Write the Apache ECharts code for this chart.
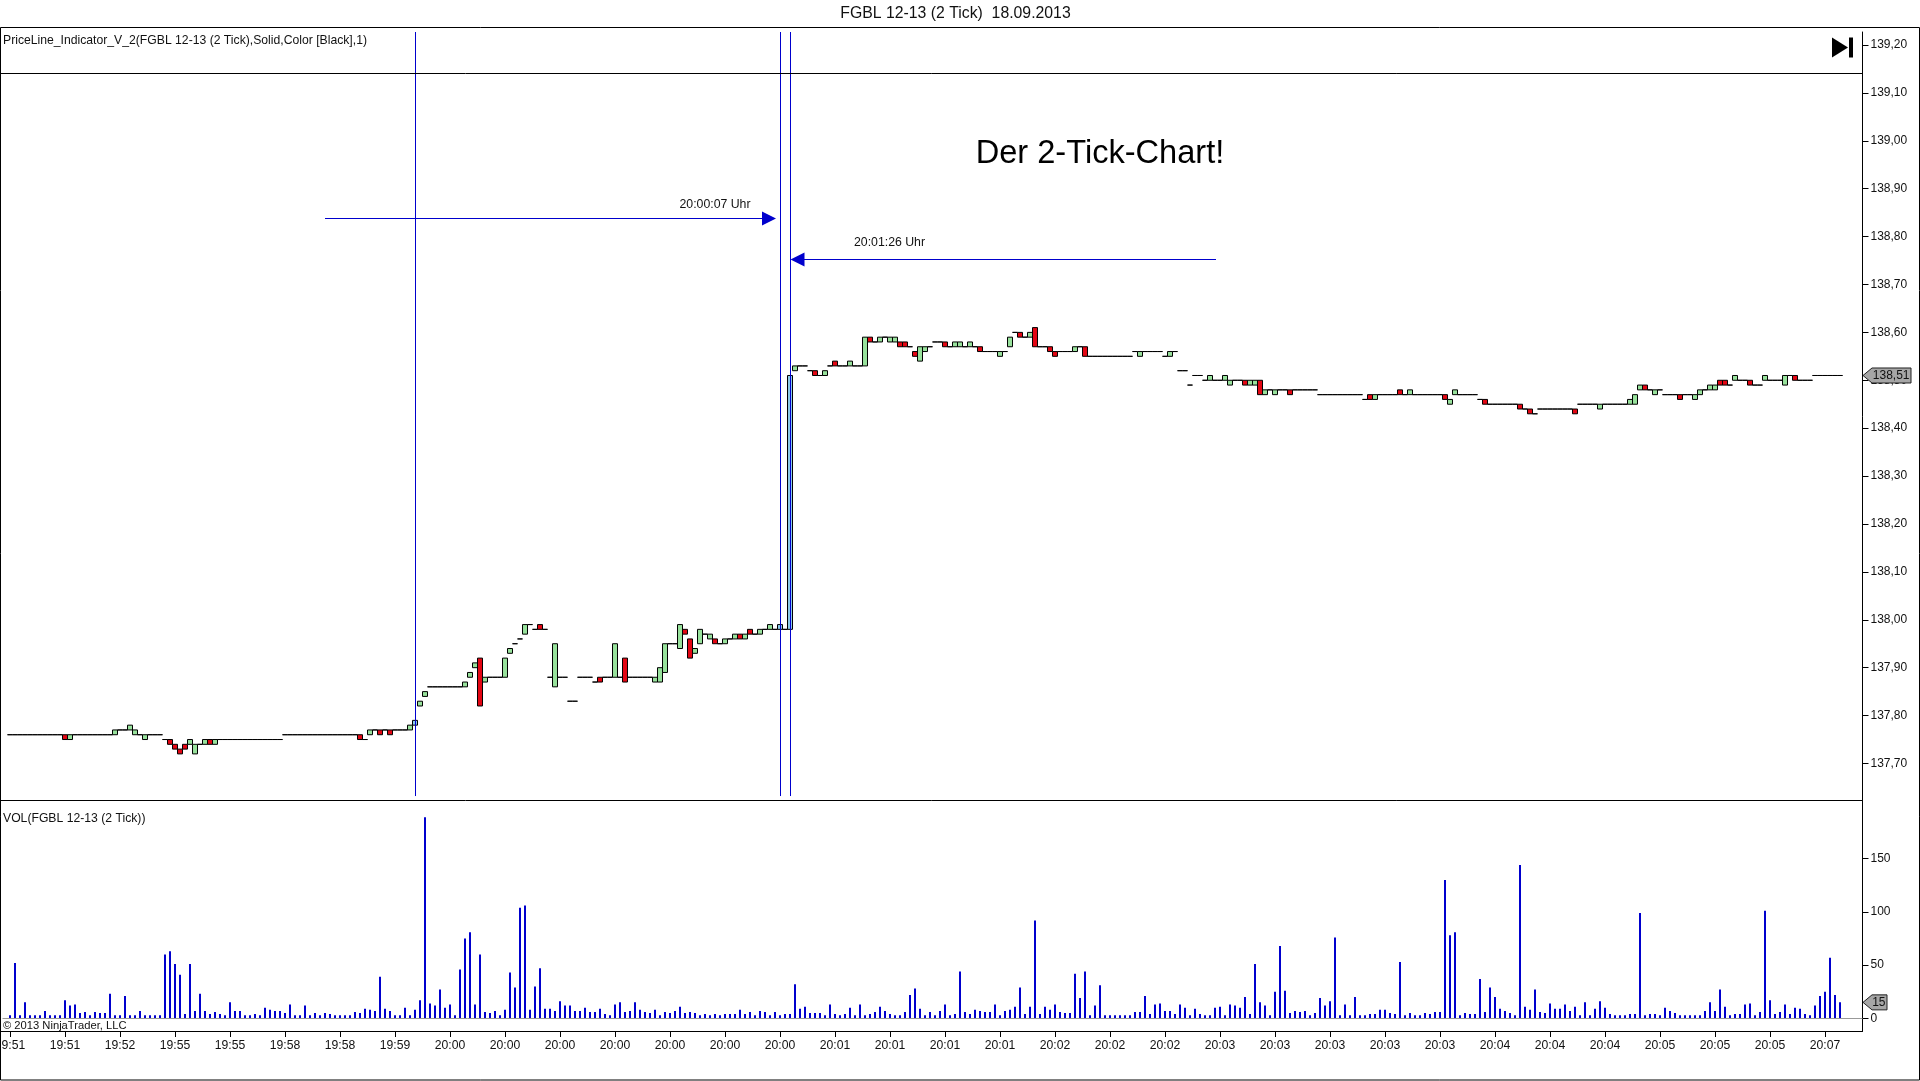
<!DOCTYPE html>
<html><head><meta charset="utf-8">
<style>html,body{margin:0;padding:0;background:#fff}#c{width:1920px;height:1081px}</style>
<script src="https://cdn.jsdelivr.net/npm/echarts@6/dist/echarts.min.js"></script>
</head><body><div id="c"></div>
<script>
// ---- data ----
const chartTitle = 'FGBL 12-13 (2 Tick)  18.09.2013';
const tickLabels = ['19:51','19:51','19:52','19:55','19:55','19:58','19:58','19:59','20:00','20:00','20:00','20:00','20:00','20:00','20:00','20:01','20:01','20:01','20:01','20:02','20:02','20:02','20:03','20:03','20:03','20:03','20:03','20:04','20:04','20:04','20:05','20:05','20:05','20:07'];
const priceTicks = [137.7,137.8,137.9,138,138.1,138.2,138.3,138.4,138.5,138.6,138.7,138.8,138.9,139,139.1,139.2];
const volumeTicks = [0,50,100,150];
const opens = [
137.76,137.76,137.76,137.76,137.76,137.76,137.76,137.76,137.76,137.76,
137.76,137.76,137.75,137.76,137.76,137.76,137.76,137.76,137.76,137.76,
137.76,137.76,137.77,137.77,137.77,137.76,137.76,137.75,137.76,137.76,
137.76,137.75,137.75,137.74,137.73,137.74,137.74,137.72,137.74,137.74,
137.75,137.74,137.75,137.75,137.75,137.75,137.75,137.75,137.75,137.75,
137.75,137.75,137.75,137.75,137.75,137.76,137.76,137.76,137.76,137.76,
137.76,137.76,137.76,137.76,137.76,137.76,137.76,137.76,137.76,137.76,
137.76,137.75,137.76,137.77,137.77,137.77,137.77,137.77,137.77,137.77,
137.77,137.78,137.82,137.84,137.86,137.86,137.86,137.86,137.86,137.86,
137.86,137.86,137.88,137.90,137.92,137.87,137.88,137.88,137.88,137.88,
137.93,137.95,137.96,137.97,137.99,137.98,137.99,137.98,137.88,137.86,
137.88,137.88,137.83,137.83,137.88,137.88,137.88,137.87,137.88,137.88,
137.88,137.88,137.88,137.92,137.88,137.88,137.88,137.88,137.88,137.87,
137.87,137.89,137.95,137.95,137.94,137.98,137.96,137.93,137.95,137.97,
137.96,137.96,137.95,137.95,137.96,137.96,137.97,137.96,137.98,137.97,
137.97,137.98,137.98,137.98,137.98,137.98,137.98,138.52,138.53,138.53,
138.52,138.52,138.51,138.51,138.53,138.54,138.53,138.53,138.53,138.53,
138.53,138.53,138.59,138.58,138.58,138.59,138.58,138.58,138.58,138.58,
138.57,138.56,138.54,138.56,138.57,138.58,138.58,138.58,138.57,138.57,
138.57,138.57,138.57,138.57,138.57,138.56,138.56,138.56,138.55,138.56,
138.57,138.60,138.60,138.59,138.59,138.61,138.57,138.57,138.57,138.56,
138.56,138.56,138.56,138.56,138.57,138.57,138.55,138.55,138.55,138.55,
138.55,138.55,138.55,138.55,138.55,138.56,138.55,138.56,138.56,138.56,
138.56,138.55,138.55,138.56,138.52,138.52,138.49,138.51,138.51,138.50,
138.50,138.50,138.50,138.50,138.49,138.50,138.50,138.50,138.49,138.49,
138.50,138.47,138.48,138.47,138.48,138.48,138.48,138.48,138.48,138.48,
138.48,138.48,138.47,138.47,138.47,138.47,138.47,138.47,138.47,138.47,
138.47,138.46,138.47,138.46,138.47,138.47,138.47,138.47,138.48,138.47,
138.47,138.47,138.47,138.47,138.47,138.47,138.47,138.47,138.45,138.47,
138.47,138.47,138.47,138.47,138.46,138.46,138.45,138.45,138.45,138.45,
138.45,138.45,138.45,138.44,138.44,138.43,138.44,138.44,138.44,138.44,
138.44,138.44,138.44,138.44,138.45,138.45,138.45,138.45,138.44,138.45,
138.45,138.45,138.45,138.45,138.45,138.45,138.48,138.49,138.48,138.47,
138.48,138.47,138.47,138.47,138.47,138.47,138.47,138.46,138.47,138.48,
138.48,138.48,138.50,138.50,138.49,138.50,138.50,138.50,138.50,138.49,
138.49,138.50,138.50,138.50,138.50,138.49,138.51,138.51,138.50,138.50,
138.50,138.51,138.51,138.51,138.51,138.51,138.51];
const closes = [
137.76,137.76,137.76,137.76,137.76,137.76,137.76,137.76,137.76,137.76,
137.76,137.75,137.76,137.76,137.76,137.76,137.76,137.76,137.76,137.76,
137.76,137.77,137.77,137.77,137.78,137.77,137.76,137.76,137.76,137.76,
137.76,137.75,137.74,137.73,137.72,137.73,137.75,137.74,137.74,137.75,
137.74,137.75,137.75,137.75,137.75,137.75,137.75,137.75,137.75,137.75,
137.75,137.75,137.75,137.75,137.75,137.76,137.76,137.76,137.76,137.76,
137.76,137.76,137.76,137.76,137.76,137.76,137.76,137.76,137.76,137.76,
137.75,137.75,137.77,137.77,137.76,137.77,137.76,137.77,137.77,137.77,
137.78,137.79,137.83,137.85,137.86,137.86,137.86,137.86,137.86,137.86,
137.86,137.87,137.89,137.91,137.82,137.88,137.88,137.88,137.88,137.92,
137.94,137.95,137.96,137.99,137.99,137.98,137.98,137.98,137.88,137.95,
137.88,137.88,137.83,137.83,137.88,137.88,137.88,137.87,137.87,137.88,
137.88,137.95,137.88,137.87,137.88,137.88,137.88,137.88,137.88,137.88,
137.90,137.95,137.95,137.95,137.99,137.97,137.92,137.94,137.98,137.97,
137.97,137.95,137.95,137.96,137.96,137.97,137.96,137.97,137.97,137.97,
137.98,137.98,137.99,137.98,137.99,137.98,138.51,138.53,138.53,138.53,
138.52,138.51,138.51,138.52,138.53,138.53,138.53,138.53,138.54,138.53,
138.53,138.59,138.58,138.58,138.59,138.59,138.59,138.59,138.57,138.57,
138.57,138.55,138.57,138.57,138.57,138.58,138.58,138.57,138.57,138.58,
138.58,138.57,138.58,138.57,138.56,138.56,138.56,138.56,138.56,138.56,
138.59,138.60,138.59,138.59,138.60,138.57,138.57,138.57,138.56,138.55,
138.56,138.56,138.56,138.57,138.57,138.55,138.55,138.55,138.55,138.55,
138.55,138.55,138.55,138.55,138.55,138.56,138.56,138.56,138.56,138.56,
138.56,138.55,138.56,138.56,138.52,138.52,138.49,138.51,138.51,138.50,
138.51,138.50,138.50,138.51,138.50,138.50,138.50,138.49,138.50,138.50,
138.47,138.48,138.48,138.48,138.48,138.48,138.47,138.48,138.48,138.48,
138.48,138.48,138.47,138.47,138.47,138.47,138.47,138.47,138.47,138.47,
138.47,138.46,138.46,138.47,138.47,138.47,138.47,138.47,138.47,138.47,
138.48,138.47,138.47,138.47,138.47,138.47,138.47,138.46,138.46,138.48,
138.47,138.47,138.47,138.47,138.46,138.45,138.45,138.45,138.45,138.45,
138.45,138.45,138.44,138.44,138.43,138.43,138.44,138.44,138.44,138.44,
138.44,138.44,138.44,138.43,138.45,138.45,138.45,138.45,138.45,138.45,
138.45,138.45,138.45,138.45,138.46,138.47,138.49,138.48,138.48,138.48,
138.48,138.47,138.47,138.47,138.46,138.47,138.47,138.47,138.48,138.48,
138.49,138.49,138.49,138.49,138.49,138.51,138.50,138.50,138.49,138.49,
138.49,138.51,138.50,138.50,138.50,138.51,138.51,138.50,138.50,138.50,
138.50,138.51,138.51,138.51,138.51,138.51,138.51];
const volumes = [
3,52,3,15,3,3,3,7,3,3,
3,17,12,13,5,6,3,6,5,5,
23,3,3,21,3,3,7,3,3,3,
3,60,63,51,41,4,51,7,23,7,
4,6,4,3,15,7,7,3,3,4,
3,10,8,7,7,5,13,3,3,12,
3,5,3,5,4,3,3,3,3,6,
5,9,8,7,39,9,7,3,3,10,
3,8,17,189,14,12,27,10,13,3,
46,75,81,13,60,6,5,7,3,8,
43,29,104,106,8,30,47,9,9,7,
16,12,12,7,7,10,6,6,9,4,
3,13,15,6,7,15,8,6,5,8,
3,6,5,7,11,5,6,5,3,4,
3,4,3,4,4,4,8,4,6,3,
7,6,3,6,3,4,4,32,9,11,
5,5,5,3,13,4,3,4,10,3,
13,3,4,6,11,7,4,3,3,6,
22,28,9,3,6,3,7,13,3,4,
44,6,4,8,7,6,6,13,3,7,
8,11,29,4,11,92,4,11,8,13,
6,5,5,42,19,44,3,12,31,3,
3,3,3,3,3,6,6,21,4,13,
14,7,7,4,13,10,3,9,4,3,
3,10,11,3,13,12,10,20,4,51,
15,12,3,25,68,26,5,7,6,7,
3,5,19,12,16,76,3,13,3,20,
3,3,4,4,8,8,5,4,53,3,
5,3,3,5,4,6,6,130,78,81,
3,5,4,4,37,6,29,20,9,7,
5,3,144,11,8,27,6,5,14,9,
9,13,7,11,3,15,3,9,16,10,
4,3,3,3,4,4,99,3,4,4,
3,10,7,5,3,3,3,3,3,7,
15,7,27,11,3,4,4,13,14,3,
6,101,17,4,6,13,4,10,9,4,
3,12,21,25,57,22,15];
const markerBars = [81,154,156];   // bars that the vertical lines run through
const lastPrice = closes[closes.length-1];
const lastVolume = volumes[volumes.length-1];

// ---- series built from the arrays ----
const font = '"Liberation Sans", Arial, sans-serif';
const candleData = opens.map((o,i)=>{
  const c = closes[i];
  const item = {value:[i,o,c,Math.min(o,c),Math.max(o,c)]};
  if (markerBars.includes(i)) item.itemStyle = {color:'#8CCBEA',color0:'#8CCBEA'};
  return item;
});
// volume panel: one leading and three trailing empty bands so the bars line up with the candles
const volCategories = [''].concat(volumes.map((_,i)=>i%11===0?(tickLabels[i/11]||''):''),['','','','']);
const volData = [null].concat(volumes);
const isTickBand = j => (j-1)%11===0 && (j-1)/11 < tickLabels.length;

const X_MIN=-2, X_MAX=370.5;
const P_MAX=139.2271, P_MIN=137.6227, LINE_END=137.632;
const vline = k=>[{coord:[k,P_MAX]},{coord:[k,LINE_END],symbol:'none'}];

const chart = echarts.init(document.getElementById('c'),null,{renderer:'canvas'});
const text=(x,y,t,extra,z)=>({type:'text',x,y,silent:true,z:z||50,style:Object.assign({text:t,font:'12.2px '+font,fill:'#111',verticalAlign:'middle',align:'left'},extra||{})});
const hline=(x1,x2,y)=>({type:'line',silent:true,z:40,shape:{x1,y1:y,x2,y2:y},style:{stroke:'#000',lineWidth:1}});

const option = {
  animation:false,backgroundColor:'#fff',
  grid:[
    {left:0,right:57.5,top:32,height:768.5,outerBoundsMode:'none'},
    {left:2.5,right:57.5,top:800.5,height:230.5,outerBoundsMode:'none'}
  ],
  xAxis:[
    {type:'value',gridIndex:0,min:X_MIN,max:X_MAX,show:false},
    {type:'category',gridIndex:1,data:volCategories,boundaryGap:true,
     axisLine:{show:true,onZero:false,lineStyle:{color:'#000'}},
     axisTick:{show:true,length:6,alignWithLabel:true,interval:isTickBand,lineStyle:{color:'#000'}},
     axisLabel:{interval:isTickBand,margin:9,color:'#111',fontFamily:font,fontSize:12.2,hideOverlap:false,showMinLabel:true}}
  ],
  yAxis:[
    {type:'value',gridIndex:0,position:'right',min:P_MIN,max:P_MAX,scale:true,splitLine:{show:false},
     axisLine:{show:true,onZero:false,lineStyle:{color:'#000'}},
     axisTick:{show:true,length:6,lineStyle:{color:'#000'},customValues:priceTicks},
     axisLabel:{customValues:priceTicks,margin:8,color:'#111',fontFamily:font,fontSize:12,padding:[2,0,0,0],
       formatter:v=>v.toFixed(2).replace('.',',')}},
    {type:'value',gridIndex:1,position:'right',min:-11.9,max:204.7,splitLine:{show:false},
     axisLine:{show:true,onZero:false,lineStyle:{color:'#000'}},
     axisTick:{show:true,length:6,lineStyle:{color:'#000'},customValues:volumeTicks},
     axisLabel:{customValues:volumeTicks,margin:8,color:'#111',fontFamily:font,fontSize:12,padding:[2,0,0,0]}}
  ],
  series:[
    {type:'candlestick',name:'FGBL',xAxisIndex:0,yAxisIndex:0,layout:'horizontal',silent:true,barWidth:5,
     itemStyle:{color:'#98E29C',color0:'#E30613',borderColor:'#000',borderColor0:'#000',borderColorDoji:'#000',borderWidth:1},
     data:candleData,
     markLine:{silent:true,animation:false,symbol:['none','none'],label:{show:false},
       lineStyle:{color:'#0000CD',width:1,type:'solid'},emphasis:{disabled:true},
       data:[
         vline(81),vline(154),vline(156),
         [{coord:[63,138.838],symbol:'none'},{coord:[151.8,138.838],symbol:'triangle',symbolSize:14,lineStyle:{color:'#0000CD'},itemStyle:{color:'#0000FF'}}],
         [{coord:[241.2,138.752],symbol:'none'},{coord:[157.5,138.752],symbol:'triangle',symbolSize:14,lineStyle:{color:'#0000CD'},itemStyle:{color:'#0000FF'}}]
       ]},
     markPoint:{silent:true,animation:false,symbol:'circle',symbolSize:1,itemStyle:{color:'transparent'},
       label:{show:true,position:'inside',color:'#111',fontFamily:font,fontSize:12.3},
       data:[
         {coord:[141,138.8675],label:{formatter:'20:00:07 Uhr'}},
         {coord:[175.9,138.787],label:{formatter:'20:01:26 Uhr'}},
         {coord:[218,138.9716],label:{formatter:'Der 2-Tick-Chart!',fontSize:32.6,color:'#000'}}
       ]}},
    {type:'bar',name:'VOL',xAxisIndex:1,yAxisIndex:1,silent:true,barWidth:2,
     itemStyle:{color:'#0000CD'},data:volData,
     markLine:{silent:true,animation:false,symbol:['none','none'],label:{show:false},
       lineStyle:{color:'#999',width:1,type:'solid'},data:[{yAxis:0}]}}
  ]
};
chart.setOption(option);

// axis chrome, captions, and the last-value tags placed through the axes' own scales
const yP = chart.convertToPixel({yAxisIndex:0},lastPrice);
const yV = chart.convertToPixel({yAxisIndex:1},lastVolume);
const tag=(x0,x1,yc,label)=>[
  {type:'polygon',silent:true,z:60,shape:{points:[[x0,yc],[x0+9,yc-7.5],[x1,yc-7.5],[x1,yc+7.5],[x0+9,yc+7.5]]},style:{fill:'#A6A6A6',stroke:'#222',lineWidth:1}},
  text(x1-1.5,yc+0.5,label,{align:'right',font:'12px '+font},61)
];
chart.setOption({graphic:{elements:[
  {type:'rect',silent:true,z:40,shape:{x:0.5,y:27.5,width:1919,height:1052.5},style:{fill:'none',stroke:'#000',lineWidth:1}},
  hline(0,1862.5,73.5),hline(0,1862.5,800.5),hline(0,1862.5,1031.5),
  text(955.5,14,chartTitle,{font:'15.8px '+font,align:'center'}),
  text(3,40.5,'PriceLine_Indicator_V_2(FGBL 12-13 (2 Tick),Solid,Color [Black],1)'),
  text(3,819,'VOL(FGBL 12-13 (2 Tick))'),
  text(3,1026,'\u00A9 2013 NinjaTrader, LLC',{font:'11.2px '+font}),
  {type:'polygon',silent:true,z:60,shape:{points:[[1832,37.5],[1848,47.5],[1832,57.5]]},style:{fill:'#000'}},
  {type:'rect',silent:true,z:60,shape:{x:1849,y:37.5,width:4,height:20},style:{fill:'#000'}},
  ...tag(1863,1911,yP,lastPrice.toFixed(2).replace('.',',')),
  ...tag(1863,1887,yV,String(lastVolume))
]}});
</script></body></html>
